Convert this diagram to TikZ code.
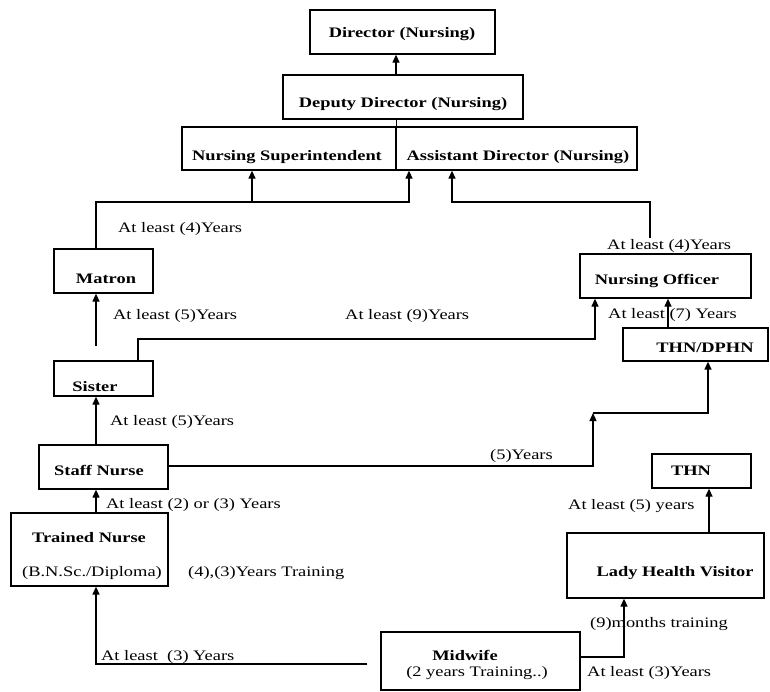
\documentclass[tikz,border=0pt]{standalone}
\usepackage{fontspec}
\setmainfont{Liberation Serif}[FakeStretch=1.27]
\usetikzlibrary{arrows.meta,calc}
\begin{document}
\begin{tikzpicture}[x=1pt,y=-1pt,
  box/.style 2 args={draw,line width=1.3pt,rectangle,inner sep=0pt,minimum width=#1,minimum height=#2},
  lbl/.style={inner sep=0pt,anchor=base,font=\fontsize{14.5}{17}\selectfont\bfseries},
  txt/.style={inner sep=0pt,anchor=base west,font=\fontsize{14.5}{17}\selectfont},
  ln/.style={line width=1.3pt},
  arr/.style={line width=1.3pt,-{Triangle[length=8pt,width=7pt]}}]
\useasboundingbox (0,0) rectangle (770,691);

% boxes
\node[box={185}{44}] (dir) at (402.5,32) {};
\node[box={240}{44}] (dep) at (403,97) {};
\node[box={214}{43}] (ns) at (289,148.5) {};
\node[box={241}{43}] (ad) at (516.5,148.5) {};
\node[box={99}{44}] (matron) at (103.5,271) {};
\node[box={99}{35}] (sister) at (103.5,378.5) {};
\node[box={129}{44}] (staff) at (103.5,467) {};
\node[box={157}{73}] (trained) at (89.5,549.5) {};
\node[box={171}{44}] (no) at (665.5,276) {};
\node[box={145}{33}] (thndphn) at (695.5,344.5) {};
\node[box={99}{34}] (thn) at (701.5,471) {};
\node[box={197}{65}] (lhv) at (665.5,565.5) {};
\node[box={199}{58}] (midwife) at (480.5,661) {};

% box texts
\node[lbl] (tdir) at (402,37) {Director (Nursing)};
\node[lbl] (tdep) at (403,107) {Deputy Director (Nursing)};
\node[lbl] (tns) at (287,160) {Nursing Superintendent};
\node[lbl] (tad) at (518,160) {Assistant Director (Nursing)};
\node[lbl] (tmat) at (106,283) {Matron};
\node[lbl] (tsis) at (95,391) {Sister};
\node[lbl] (tsta) at (99,475) {Staff Nurse};
\node[lbl] (ttr) at (89,542) {Trained Nurse};
\node[lbl,font=\fontsize{14.5}{17}\selectfont] (ttr2) at (92,576) {(B.N.Sc./Diploma)};
\node[lbl] (tno) at (657,284) {Nursing Officer};
\node[lbl] (tthd) at (705,352) {THN/DPHN};
\node[lbl] (tthn) at (691,475) {THN};
\node[lbl] (tlhv) at (675,576) {Lady Health Visitor};
\node[lbl] (tmid) at (465,660) {Midwife};
\node[lbl,font=\fontsize{14.5}{17}\selectfont] (tmid2) at (477,676) {(2 years Training..)};

% connector coordinates
\coordinate (a1) at (396,0);
\coordinate (L) at (96,202);
\coordinate (L1) at (252,202);
\coordinate (L2) at (409,202);
\coordinate (R) at (650,238);
\coordinate (R1) at (452,202);
\coordinate (s1) at (96,346);
\coordinate (s2) at (138,339);
\coordinate (s3) at (595,339);
\coordinate (t1) at (593,466);
\coordinate (t2) at (593,413);
\coordinate (t3) at (708,413);
\coordinate (t4) at (668,0);
\coordinate (m1) at (367,664);
\coordinate (m2) at (96,664);
\coordinate (m3) at (624,657);
\coordinate (h1) at (709,0);

% connectors
\draw[arr] (dep.north -| a1) -- (dir.south -| a1);
\draw[ln] (dep.south -| ns.east) -- (ns.north east);
\draw[arr] (matron.north -| L) -- (L) -- (L2) -- (ad.south -| L2);
\draw[arr] (L1) -- (ns.south -| L1);
\draw[arr] (R) |- (R1) -- (ad.south -| R1);
\draw[arr] (s1) -- (matron.south -| s1);
\draw[arr] (sister.north -| s2) -- (s2) -- (s3) -- (no.south -| s3);
\draw[arr] (staff.north -| s1) -- (sister.south -| s1);
\draw[arr] (staff.east |- t1) -- (t1) -- (t2);
\draw[arr] (t2) -- (t3) -- (thndphn.south -| t3);
\draw[arr] (thndphn.north -| t4) -- (no.south -| t4);
\draw[arr] (trained.north -| s1) -- (staff.south -| s1);
\draw[arr] (m1) -- (m2) -- (trained.south -| m2);
\draw[arr] (midwife.east |- m3) -- (m3) -- (lhv.south -| m3);
\draw[arr] (lhv.north -| h1) -- (thn.south -| h1);

% connector labels
\node[txt] (l1) at (118,232) {At least (4)Years};
\node[txt] (l2) at (607,249) {At least (4)Years};
\node[txt] (l3) at (113,319) {At least (5)Years};
\node[txt] (l4) at (345,319) {At least (9)Years};
\node[txt] (l5) at (608,318) {At least (7) Years};
\node[txt] (l6) at (110,425) {At least (5)Years};
\node[txt] (l7) at (490,459) {(5)Years};
\node[txt] (l8) at (106,508) {At least (2) or (3) Years};
\node[txt] (l9) at (568,509) {At least (5) years};
\node[txt] (l10) at (188,576) {(4),(3)Years Training};
\node[txt] (l11) at (590,627) {(9)months training};
\node[txt] (l12) at (101,660) {At least\ \ (3) Years};
\node[txt] (l13) at (587,676) {At least (3)Years};
\end{tikzpicture}
\end{document}
